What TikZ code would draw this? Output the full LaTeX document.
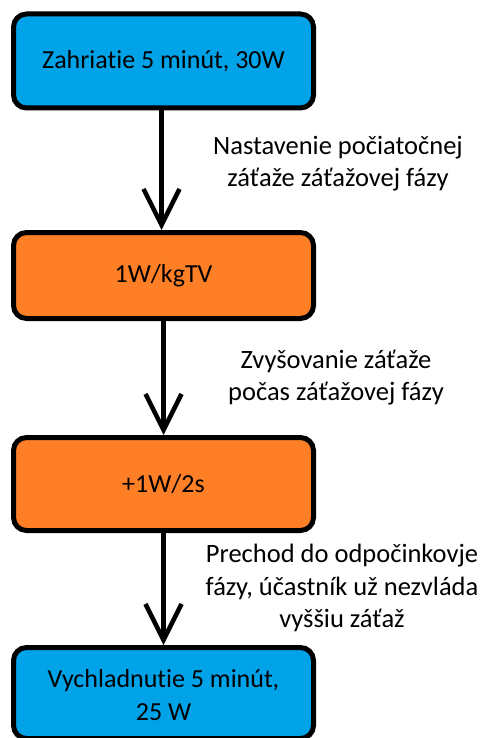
\documentclass[tikz,border=0pt]{standalone}
\usepackage{fontspec}
\setmainfont{Carlito}[Ligatures=NoCommon]
\usetikzlibrary{arrows.meta}
\definecolor{stageblue}{HTML}{00A2E8}
\definecolor{stageorange}{HTML}{FF7F27}
\tikzset{
  stagebox/.style={draw=black, line width=5pt, rounded corners=13pt,
    minimum width=300pt, inner sep=0pt, align=center,
    font=\fontsize{26}{33}\selectfont},
  warmbox/.style={stagebox, fill=stageblue},
  loadbox/.style={stagebox, fill=stageorange},
  flow/.style={line width=4.5pt,
    -{Straight Barb[length=36pt, width=36pt, line width=4.5pt]}},
  steplabel/.style={align=center, font=\fontsize{26.5}{32.5}\selectfont}
}
\begin{document}
\begin{tikzpicture}[x=1pt, y=-1pt]
  \useasboundingbox (0,0) rectangle (485,738);
  \node[warmbox, minimum height=94pt] (warmup) at (163.5,61) {Zahriatie 5 minút, 30W};
  \node[loadbox, minimum height=86pt] (start) at (163.5,275.5) {1W/kgTV};
  \node[loadbox, minimum height=93pt] (ramp) at (163.5,484) {+1W/2s};
  \node[warmbox, minimum height=91pt] (cool) at (163.5,693) {\strut Vychladnutie 5 minút,\\25 W};
  \draw[flow] ([xshift=-2pt]warmup.south) -- ([xshift=-2pt]start.north);
  \draw[flow] (start.south) -- (ramp.north);
  \draw[flow] (ramp.south) -- (cool.north);
  \node[steplabel] (l1) at (338,163.5) {Nastavenie počiatočnej\\záťaže záťažovej fázy};
  \node[steplabel] (l2) at (336,377.5) {Zvyšovanie záťaže\\počas záťažovej fázy};
  \node[steplabel] (l3) at (342,588) {Prechod do odpočinkovje\\fázy, účastník už nezvláda\\vyššiu záťaž};
\end{tikzpicture}
\end{document}
